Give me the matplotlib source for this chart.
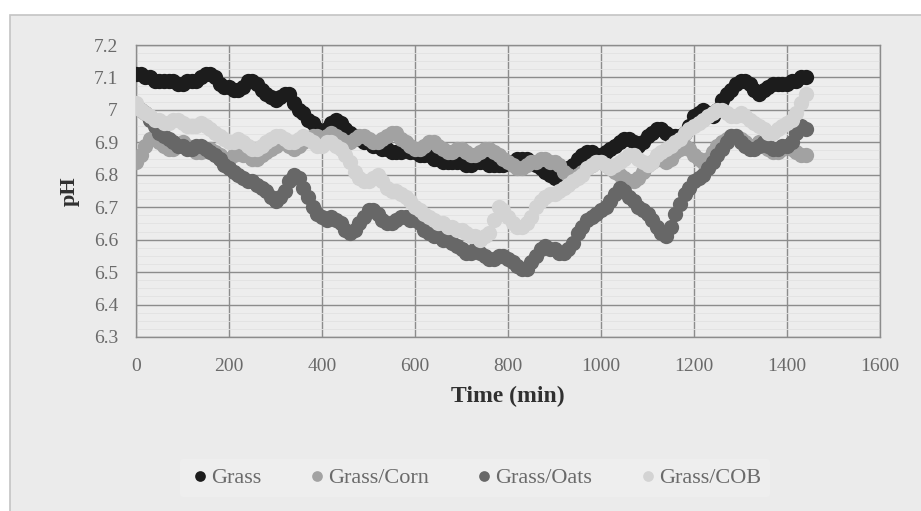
import numpy as np
import matplotlib
matplotlib.use("Agg")
from matplotlib import pyplot as plt
from matplotlib.patches import Rectangle

# sample times (min), every 10 min
time_min = list(range(0, 1441, 10))

grass = [7.11, 7.11, 7.10, 7.10, 7.09, 7.09, 7.09, 7.09, 7.09, 7.08,
         7.08, 7.09, 7.09, 7.09, 7.10, 7.11, 7.11, 7.10, 7.08, 7.07,
         7.07, 7.06, 7.06, 7.07, 7.09, 7.09, 7.08, 7.06, 7.05, 7.04,
         7.03, 7.04, 7.05, 7.05, 7.02, 7.00, 6.99, 6.97, 6.96, 6.94,
         6.93, 6.94, 6.96, 6.97, 6.96, 6.94, 6.93, 6.92, 6.91, 6.90,
         6.90, 6.89, 6.89, 6.88, 6.88, 6.87, 6.87, 6.87, 6.88, 6.87,
         6.87, 6.86, 6.86, 6.86, 6.85, 6.85, 6.84, 6.84, 6.84, 6.84,
         6.84, 6.83, 6.83, 6.84, 6.84, 6.84, 6.83, 6.83, 6.83, 6.83,
         6.84, 6.84, 6.85, 6.85, 6.85, 6.84, 6.83, 6.82, 6.81, 6.80,
         6.79, 6.79, 6.80, 6.82, 6.83, 6.85, 6.86, 6.87, 6.87, 6.86,
         6.86, 6.87, 6.88, 6.89, 6.90, 6.91, 6.91, 6.90, 6.89, 6.90,
         6.92, 6.93, 6.94, 6.94, 6.93, 6.92, 6.92, 6.92, 6.93, 6.95,
         6.98, 6.99, 7.00, 6.99, 6.98, 7.00, 7.03, 7.05, 7.06, 7.08,
         7.09, 7.09, 7.08, 7.06, 7.05, 7.06, 7.07, 7.08, 7.08, 7.08,
         7.08, 7.09, 7.09, 7.10, 7.10]

grass_corn = [6.84, 6.86, 6.89, 6.91, 6.92, 6.90, 6.89, 6.88, 6.88, 6.89,
              6.90, 6.89, 6.88, 6.87, 6.87, 6.88, 6.88, 6.87, 6.86, 6.85,
              6.85, 6.86, 6.87, 6.86, 6.86, 6.85, 6.85, 6.86, 6.87, 6.88,
              6.89, 6.90, 6.90, 6.89, 6.88, 6.89, 6.90, 6.91, 6.92, 6.92,
              6.91, 6.92, 6.93, 6.92, 6.91, 6.90, 6.90, 6.91, 6.92, 6.92,
              6.91, 6.90, 6.90, 6.91, 6.92, 6.93, 6.93, 6.91, 6.90, 6.89,
              6.88, 6.88, 6.89, 6.90, 6.90, 6.89, 6.88, 6.87, 6.87, 6.88,
              6.88, 6.87, 6.86, 6.86, 6.87, 6.88, 6.88, 6.87, 6.86, 6.85,
              6.84, 6.83, 6.82, 6.82, 6.83, 6.84, 6.84, 6.85, 6.85, 6.84,
              6.84, 6.83, 6.81, 6.80, 6.79, 6.80, 6.81, 6.82, 6.83, 6.84,
              6.84, 6.83, 6.82, 6.81, 6.80, 6.79, 6.78, 6.78, 6.79, 6.81,
              6.83, 6.84, 6.85, 6.85, 6.84, 6.85, 6.87, 6.88, 6.89, 6.88,
              6.86, 6.85, 6.84, 6.85, 6.87, 6.89, 6.90, 6.91, 6.92, 6.92,
              6.91, 6.90, 6.89, 6.89, 6.90, 6.89, 6.88, 6.87, 6.87, 6.88,
              6.89, 6.88, 6.87, 6.86, 6.86]

grass_oats = [7.01, 7.00, 6.99, 6.97, 6.95, 6.93, 6.92, 6.91, 6.90, 6.89,
              6.89, 6.88, 6.88, 6.89, 6.89, 6.88, 6.87, 6.86, 6.85, 6.83,
              6.82, 6.81, 6.80, 6.79, 6.78, 6.78, 6.77, 6.76, 6.75, 6.73,
              6.72, 6.73, 6.75, 6.78, 6.80, 6.79, 6.76, 6.73, 6.70, 6.68,
              6.67, 6.66, 6.67, 6.66, 6.65, 6.63, 6.62, 6.63, 6.65, 6.67,
              6.69, 6.69, 6.68, 6.66, 6.65, 6.65, 6.66, 6.67, 6.67, 6.66,
              6.66, 6.65, 6.63, 6.62, 6.61, 6.61, 6.60, 6.60, 6.59, 6.58,
              6.57, 6.56, 6.56, 6.57, 6.56, 6.55, 6.54, 6.54, 6.55, 6.55,
              6.54, 6.53, 6.52, 6.51, 6.51, 6.53, 6.55, 6.57, 6.58, 6.57,
              6.57, 6.56, 6.56, 6.57, 6.59, 6.62, 6.64, 6.66, 6.67, 6.68,
              6.69, 6.70, 6.72, 6.74, 6.76, 6.75, 6.73, 6.72, 6.70, 6.69,
              6.68, 6.66, 6.64, 6.62, 6.61, 6.64, 6.68, 6.71, 6.74, 6.76,
              6.78, 6.79, 6.80, 6.82, 6.84, 6.86, 6.88, 6.90, 6.92, 6.92,
              6.90, 6.89, 6.88, 6.88, 6.89, 6.90, 6.89, 6.88, 6.88, 6.89,
              6.89, 6.90, 6.93, 6.95, 6.94]

grass_cob = [7.02, 7.00, 6.99, 6.98, 6.97, 6.97, 6.96, 6.96, 6.97, 6.97,
             6.96, 6.95, 6.95, 6.95, 6.96, 6.95, 6.94, 6.93, 6.92, 6.91,
             6.90, 6.90, 6.91, 6.90, 6.89, 6.88, 6.88, 6.89, 6.90, 6.91,
             6.92, 6.92, 6.91, 6.90, 6.90, 6.91, 6.92, 6.91, 6.90, 6.89,
             6.89, 6.90, 6.90, 6.89, 6.88, 6.86, 6.84, 6.81, 6.79, 6.78,
             6.78, 6.79, 6.80, 6.78, 6.76, 6.75, 6.75, 6.74, 6.73, 6.72,
             6.70, 6.69, 6.68, 6.67, 6.66, 6.65, 6.65, 6.64, 6.64, 6.63,
             6.63, 6.62, 6.61, 6.61, 6.60, 6.61, 6.62, 6.66, 6.70, 6.69,
             6.67, 6.65, 6.64, 6.64, 6.65, 6.67, 6.70, 6.72, 6.73, 6.74,
             6.74, 6.75, 6.76, 6.77, 6.78, 6.79, 6.80, 6.82, 6.83, 6.84,
             6.84, 6.83, 6.82, 6.83, 6.84, 6.85, 6.86, 6.86, 6.85, 6.84,
             6.83, 6.84, 6.86, 6.87, 6.88, 6.89, 6.90, 6.91, 6.93, 6.94,
             6.95, 6.96, 6.97, 6.98, 6.99, 7.00, 7.00, 6.99, 6.98, 6.98,
             6.99, 6.98, 6.97, 6.96, 6.95, 6.94, 6.93, 6.93, 6.94, 6.95,
             6.96, 6.97, 6.99, 7.02, 7.05]

series_names = ["Grass", "Grass/Corn", "Grass/Oats", "Grass/COB"]
series_colors = ["#1c1c1c", "#a2a2a2", "#676767", "#d3d3d3"]

x_ticks = [0, 200, 400, 600, 800, 1000, 1200, 1400, 1600]
y_ticks = [6.3, 6.4, 6.5, 6.6, 6.7, 6.8, 6.9, 7.0, 7.1, 7.2]
y_tick_labels = ["6.3", "6.4", "6.5", "6.6", "6.7", "6.8", "6.9", "7", "7.1", "7.2"]

plt.rcParams["font.family"] = ["Liberation Serif", "DejaVu Serif"]

fig = plt.figure(figsize=(9.21, 5.11), dpi=100, facecolor="#ffffff")
# chart frame (Excel style area), kept behind the axes
fig.patches.append(Rectangle((10 / 921, -0.01), 1.0, 1 - 15 / 511 + 0.01,
                             transform=fig.transFigure, facecolor="#ebebeb",
                             edgecolor="#c4c4c4", linewidth=1.2, zorder=-1))

ax = fig.add_axes([136 / 921, 1 - 337 / 511, 744 / 921, 292 / 511])
ax.set_facecolor("#ededed")

for values, name, color in zip([grass, grass_corn, grass_oats, grass_cob],
                               series_names, series_colors):
    ax.plot(time_min, values, linestyle="none", marker="o", markersize=11,
            markeredgewidth=0, color=color, label=name, zorder=3)

ax.set_xlim(0, 1600)
ax.set_ylim(6.3, 7.2)
ax.set_xticks(x_ticks)
ax.set_xticklabels([str(v) for v in x_ticks])
ax.set_yticks(y_ticks)
ax.set_yticklabels(y_tick_labels)
ax.set_yticks(np.arange(6.3, 7.2, 0.025), minor=True)

ax.grid(True, which="major", color="#8c8c8c", linewidth=1.0, zorder=1)
ax.grid(True, which="minor", axis="y", color="#e2e2e2", linewidth=0.6, zorder=1)
ax.set_axisbelow(True)
ax.tick_params(which="both", length=0)
ax.tick_params(axis="x", pad=15, labelsize=14, labelcolor="#6a6a6a")
ax.tick_params(axis="y", pad=13, labelsize=14, labelcolor="#6a6a6a")
for side, spine in ax.spines.items():
    spine.set_color("#8c8c8c")
    spine.set_linewidth(1.0)

ax.set_xlabel("Time (min)", fontsize=17, fontweight="bold", color="#303030", labelpad=8)
ax.set_ylabel("pH", fontsize=16, fontweight="bold", color="#303030", labelpad=10)

leg = fig.legend(loc="center", bbox_to_anchor=(475 / 921, 1 - 478 / 511), ncol=4,
                 frameon=True, fontsize=16, handletextpad=0.0, columnspacing=2.0,
                 markerscale=0.7, handlelength=1.0)
leg.get_frame().set_facecolor("#efefef")
leg.get_frame().set_edgecolor("none")
for text in leg.get_texts():
    text.set_color("#6a6a6a")

fig.savefig("out.png", dpi=100, facecolor=fig.get_facecolor())
